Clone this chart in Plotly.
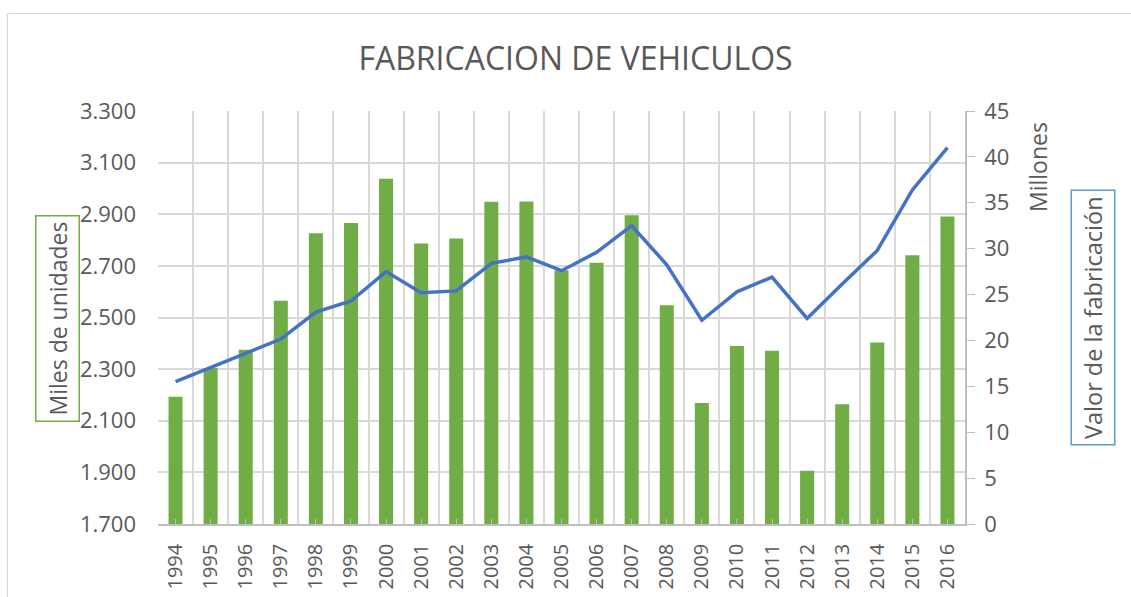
import plotly.graph_objects as go

years = list(range(1994, 2017))
unidades = [2193, 2304, 2375, 2565, 2826, 2866, 3038, 2787, 2806, 2948, 2949,
            2683, 2712, 2896, 2547, 2169, 2390, 2371, 1906, 2164, 2403, 2741, 2891]
valor = [15.5, 17.0, 18.6, 20.15, 23.1, 24.3, 27.5, 25.2, 25.4, 28.4, 29.1,
         27.6, 29.6, 32.5, 28.25, 22.2, 25.3, 26.9, 22.4, 26.15, 29.8, 36.4, 41.0]
left_ticks = [1700, 1900, 2100, 2300, 2500, 2700, 2900, 3100, 3300]
right_ticks = [0, 5, 10, 15, 20, 25, 30, 35, 40, 45]

FONT = "Open Sans"
TXT = "#595959"
GRID = "#D9D9D9"

fig = go.Figure()
fig.add_trace(go.Bar(x=years, y=unidades, marker=dict(color="#70AD47", line=dict(width=0)),
                     width=0.4, name="Miles de unidades", yaxis="y"))
fig.add_trace(go.Scatter(x=years, y=valor, mode="lines", line=dict(color="#4472C4", width=3.5),
                         name="Valor de la fabricación", yaxis="y2"))

fig.update_layout(
    width=1131, height=597,
    margin=dict(l=158, r=166, t=111, b=73, autoexpand=False),
    paper_bgcolor="white", plot_bgcolor="white",
    separators=",.",
    showlegend=False,
    font=dict(family=FONT, color=TXT, size=21),
    title=dict(text="FABRICACION DE VEHICULOS", x=575.5 / 1131, xanchor="center",
               y=1 - 59 / 597, yanchor="middle",
               font=dict(family=FONT, size=32, color=TXT)),
    xaxis=dict(range=[1993.5, 2016.5], tickmode="array", tickvals=years,
               ticktext=[str(y) for y in years], tickangle=-90,
               ticks="inside", ticklen=5, tickcolor="#BFBFBF", tickwidth=1.2,
               showgrid=False, zeroline=False, automargin=False,
               showline=True, linecolor="#BFBFBF", linewidth=1.5,
               tickfont=dict(size=20, color=TXT), ticklabelstandoff=10,
               minor=dict(tickmode="array", tickvals=[y + 0.5 for y in range(1993, 2017)],
                          showgrid=True, gridcolor=GRID, gridwidth=1.5, ticks=""),
               ),
    yaxis=dict(range=[1700, 3300], tickmode="array", tickvals=left_ticks,
               tickformat=",.0f", showgrid=True, gridcolor=GRID, gridwidth=1.5,
               zeroline=False, showline=False, ticks="", automargin=False,
               tickfont=dict(size=22, color=TXT), ticklabelstandoff=21),
    yaxis2=dict(range=[0, 45], tickmode="array", tickvals=right_ticks,
                overlaying="y", side="right", showgrid=False, zeroline=False,
                showline=True, linecolor="#BFBFBF", linewidth=1.5, automargin=False,
                ticks="outside", ticklen=8, tickcolor="#BFBFBF",
                tickfont=dict(size=22, color=TXT), ticklabelstandoff=5),
    shapes=[
        dict(type="line", xref="paper", yref="paper",
             x0=(7.5 - 158) / 807, x1=(1140 - 158) / 807,
             y0=(524 - 13.5) / 413, y1=(524 - 13.5) / 413,
             line=dict(color="#D9D9D9", width=1.2)),
        dict(type="line", xref="paper", yref="paper",
             x0=(7.5 - 158) / 807, x1=(7.5 - 158) / 807,
             y0=(524 - 13.5) / 413, y1=(524 - 610) / 413,
             line=dict(color="#D9D9D9", width=1.2)),
    ],
    annotations=[
        dict(text="Miles de unidades", xref="paper", yref="paper",
             x=(57.5 - 158) / 807, y=(524 - 318.5) / 413, xanchor="center", yanchor="middle",
             textangle=-90, showarrow=False, font=dict(size=23, color=TXT, family=FONT),
             bordercolor="#70AD47", borderwidth=1.5, borderpad=5, bgcolor="white"),
        dict(text="Valor de la fabricación", xref="paper", yref="paper",
             x=(1092.5 - 158) / 807, y=(524 - 318) / 413, xanchor="center", yanchor="middle",
             textangle=-90, showarrow=False, font=dict(size=23.5, color=TXT, family=FONT),
             bordercolor="#5B9BD5", borderwidth=1.5, borderpad=5, bgcolor="white"),
        dict(text="Millones", xref="paper", yref="paper",
             x=(1038 - 158) / 807, y=(524 - 167) / 413, xanchor="center", yanchor="middle",
             textangle=-90, showarrow=False, font=dict(size=23, color=TXT, family=FONT)),
    ],
)

fig.write_html("out.html", post_script="document.body.style.margin='0';",
               config={"displayModeBar": False})
